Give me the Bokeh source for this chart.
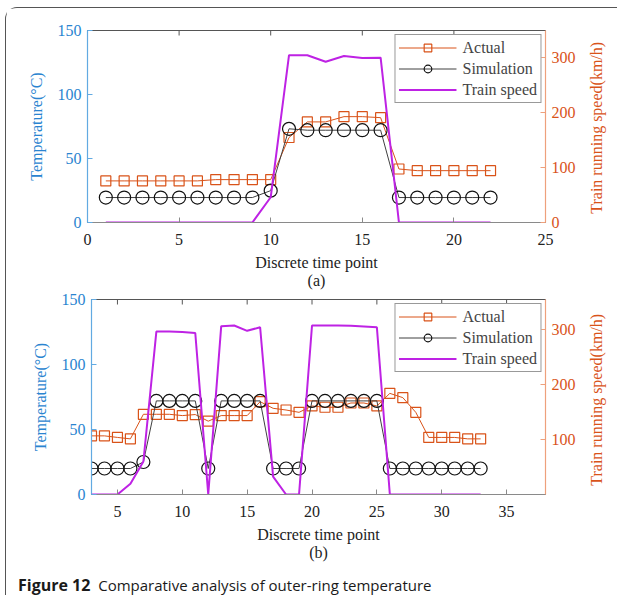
import math
from bokeh.plotting import figure
from bokeh.models import Range1d, LinearAxis, Legend, LegendItem, FixedTicker, Div
from bokeh.layouts import column
from bokeh.embed import file_html
from bokeh.resources import INLINE

# ---------------- data (a) ----------------
t_a = [1, 2, 3, 4, 5, 6, 7, 8, 9, 10, 11, 12, 13, 14, 15, 16, 17, 18, 19, 20, 21, 22]
actual_a = [32.5, 32.5, 32.5, 32.5, 32.5, 32.5, 33.5, 33.5, 33.5, 33.5, 66.4,
            78.6, 78.6, 82.7, 82.7, 81.9, 41.8, 40.5, 40.5, 40.5, 40.5, 40.5]
sim_a = [19.5, 19.5, 19.5, 19.5, 19.5, 19.5, 19.5, 19.5, 19.5, 24.9, 73.2,
         72.1, 72.1, 72.1, 72.1, 72.1, 19.5, 19.5, 19.5, 19.5, 19.5, 19.5]
speed_a = [0, 0, 0, 0, 0, 0, 0, 0, 0, 46, 305, 305, 293, 303.6, 300, 300.5,
           0, 0, 0, 0, 0, 0]

# ---------------- data (b) ----------------
t_b = [3, 4, 5, 6, 7, 8, 9, 10, 11, 12, 13, 14, 15, 16, 17, 18, 19, 20, 21, 22,
       23, 24, 25, 26, 27, 28, 29, 30, 31, 32, 33]
actual_b = [45.1, 45.1, 43.9, 42.8, 61.7, 61.7, 61.7, 60.7, 61.5, 56.4, 60.7,
            60.7, 60.7, 71.4, 66.3, 65.0, 63.2, 68.1, 67.1, 67.1, 70.4, 70.4,
            68.1, 77.8, 74.5, 63.2, 43.9, 43.9, 43.9, 42.8, 42.8]
sim_b = [20, 20, 20, 20, 25, 72, 72, 72, 72, 20, 72, 72, 72, 72, 20, 20, 20,
         72, 72, 72, 72, 72, 72, 20, 20, 20, 20, 20, 20, 20, 20]
speed_b = [0, 0, 0, 19.5, 60, 296.6, 296.6, 296, 294, 0, 306.5, 307.7, 298,
           304.5, 32.6, 0, 0, 307.7, 307.5, 307.5, 307, 306, 304.5, 0, 0, 0,
           0, 0, 0, 0, 0]

x_ticks_a = [0, 5, 10, 15, 20, 25]
x_ticks_b = [5, 10, 15, 20, 25, 30, 35]
temp_ticks = [0, 50, 100, 150]
speed_ticks_a = [0, 100, 200, 300]
speed_ticks_b = [100, 200, 300]
speed_label = "Train running speed(km/h)"
speed_label_start = 16   # speed value where the rotated right-hand title begins

SERIF = "Liberation Serif"
BLUE_T = "#2a84d0"
BLUE_L = "#62aae2"
ORANGE = "#D95319"
ORANGE_L = "#eea07c"
PURPLE = "#BE22E4"
GRAY = "#8a8a8a"


def make_fig(t, actual, sim, speed, xr, sr, xt, st, w, h, mb_top, mb_bottom, tag, margin):
    p = figure(width=w, height=h, output_backend="svg", toolbar_location=None,
               x_range=Range1d(*xr), y_range=Range1d(0, 150),
               min_border_left=81, min_border_right=72,
               min_border_top=mb_top, min_border_bottom=mb_bottom, margin=margin)
    p.extra_y_ranges = {"speed": Range1d(*sr)}
    p.grid.visible = False
    p.outline_line_color = "#555555"
    p.outline_line_width = 1
    p.background_fill_color = "white"
    p.border_fill_color = "white"

    xa = p.xaxis[0]
    xa.ticker = FixedTicker(ticks=xt)
    xa.axis_label = "Discrete time point\n" + tag
    ya = p.yaxis[0]
    ya.ticker = FixedTicker(ticks=temp_ticks)
    ya.axis_label = "Temperature(°C)"

    ra = LinearAxis(y_range_name="speed", ticker=FixedTicker(ticks=st))
    p.add_layout(ra, "right")
    # right-hand title, reading bottom-to-top as in the original
    rt = LinearAxis(y_range_name="speed", ticker=FixedTicker(ticks=[speed_label_start]),
                    major_label_overrides={speed_label_start: speed_label},
                    major_label_orientation=math.pi / 2)
    p.add_layout(rt, "right")

    for ax in (xa, ya, ra, rt):
        ax.major_tick_in = 5
        ax.major_tick_out = 0
        ax.minor_tick_line_color = None
        ax.major_label_text_font = SERIF
        ax.major_label_text_font_size = "16px"
        ax.axis_label_text_font = SERIF
        ax.axis_label_text_font_size = "16px"
        ax.axis_label_text_font_style = "normal"
        ax.axis_line_width = 1.2
    xa.axis_line_color = GRAY
    xa.major_tick_line_color = GRAY
    xa.major_label_text_color = "#222222"
    xa.axis_label_text_color = "#222222"
    xa.axis_label_text_line_height = 1.1
    xa.major_label_standoff = 11
    xa.axis_label_standoff = 6
    ya.axis_line_color = BLUE_L
    ya.major_tick_line_color = BLUE_L
    ya.major_label_text_color = BLUE_T
    ya.axis_label_text_color = BLUE_T
    ya.major_label_standoff = 6
    ya.axis_label_standoff = 10
    ra.axis_line_color = ORANGE_L
    ra.major_tick_line_color = ORANGE_L
    ra.major_label_text_color = ORANGE
    ra.major_label_standoff = 6
    rt.axis_line_color = None
    rt.major_tick_line_color = None
    rt.major_tick_in = 0
    rt.major_label_text_color = ORANGE
    rt.major_label_standoff = 18

    # inward tick marks along the top edge of the box
    p.scatter(xt, [150] * len(xt), marker="dash", angle=math.pi / 2, size=10,
              line_color="#555555", line_width=1)

    la = p.line(t, actual, line_color=ORANGE, line_width=1)
    sa = p.scatter(t, actual, marker="square", size=10, line_color=ORANGE,
                   fill_color=None, line_width=1.2)
    ls = p.line(t, sim, line_color="#404040", line_width=1)
    ss = p.scatter(t, sim, marker="circle", size=13, line_color="#111111",
                   fill_color=None, line_width=1.2)
    lv = p.line(t, speed, line_color=PURPLE, line_width=2, y_range_name="speed")

    leg = Legend(items=[LegendItem(label="Actual", renderers=[la, sa]),
                        LegendItem(label="Simulation", renderers=[ls, ss]),
                        LegendItem(label="Train speed", renderers=[lv])],
                 location="top_right", margin=4, padding=3, spacing=2,
                 label_text_font=SERIF, label_text_font_size="16px",
                 glyph_width=58, glyph_height=19, label_height=19,
                 label_standoff=6, border_line_color="#333333",
                 border_line_width=1, background_fill_alpha=1)
    p.add_layout(leg)
    return p


pa = make_fig(t_a, actual_a, sim_a, speed_a, (0, 25), (0, 350), x_ticks_a,
              speed_ticks_a, 611, 284, 22, 70, "(a)", (0, 0, 0, 0))
pb = make_fig(t_b, actual_b, sim_b, speed_b, (3, 38), (0, 355), x_ticks_b,
              speed_ticks_b, 607, 273, 7, 71, "(b)", (0, 0, 0, 4))

cap = Div(text='<b style="font-size:16px">Figure 12</b>&nbsp;&nbsp;Comparative '
               'analysis of outer-ring temperature',
          width=606, height=30, margin=(0, 0, 0, 0),
          styles={"font-family": "Open Sans", "font-size": "15px", "color": "#1a1a1a",
                  "padding-left": "12px", "padding-top": "9px", "white-space": "nowrap"})

layout = column(pa, pb, cap, margin=(7, 0, 0, 5),
                styles={"border-left": "1px solid #555",
                        "border-top": "1px solid #555",
                        "border-top-left-radius": "12px"})

open("out.html", "w").write(file_html(layout, INLINE))
